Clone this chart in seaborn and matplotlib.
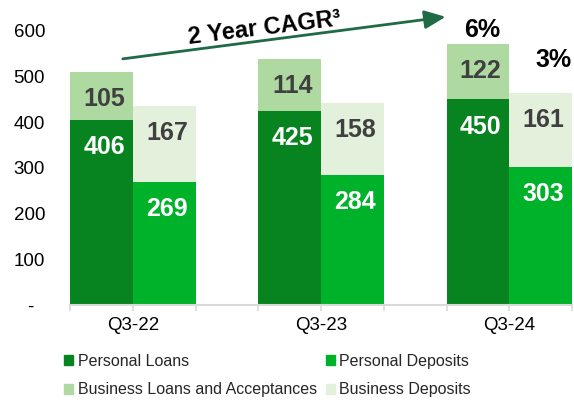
import matplotlib
matplotlib.use("Agg")
import matplotlib.pyplot as plt
from matplotlib.patches import Patch
from matplotlib.ticker import FixedLocator
import seaborn as sns
import pandas as pd

# --- Data ---
quarters = ["Q3-22", "Q3-23", "Q3-24"]
personal_loans = [406, 425, 450]
business_loans = [105, 114, 122]
personal_deposits = [269, 284, 303]
business_deposits = [167, 158, 161]
cagr_labels = ["6%", "3%"]
y_ticks = [0, 100, 200, 300, 400, 500, 600]
y_tick_labels = ["-  ", "100", "200", "300", "400", "500", "600"]

# colours
c_pl = "#07841F"
c_pd = "#00B22A"
c_bl = "#AEDAA2"
c_bd = "#E3F0DC"
text_dark = "#404040"
arrow_c = "#1E6B45"

df = pd.DataFrame({
    "quarter": quarters * 2,
    "kind": ["Loans"] * 3 + ["Deposits"] * 3,
    "personal": personal_loans + personal_deposits,
    "business": business_loans + business_deposits,
})
df["total"] = df["personal"] + df["business"]

sns.set_style("white")
plt.rcParams["font.family"] = ["Liberation Sans", "DejaVu Sans"]

fig = plt.figure(figsize=(5.74, 4.0), dpi=100)
ax = fig.add_axes([0.122, 0.2375, 0.8746, 0.685])

# stacked bars: totals first (business part shows on top), then personal part
common = dict(data=df, x="quarter", hue="kind", order=quarters,
              hue_order=["Loans", "Deposits"], width=2 / 3, dodge=True,
              saturation=1, linewidth=0, errorbar=None, legend=False, ax=ax)
sns.barplot(y="total", palette=[c_bl, c_bd], **common)
sns.barplot(y="personal", palette=[c_pl, c_pd], **common)

# value labels near the top of each segment
seg_vals = [business_loans, business_deposits, personal_loans, personal_deposits]
seg_cols = [text_dark, text_dark, "white", "white"]
for cont, vals, col in zip(ax.containers, seg_vals, seg_cols):
    for bar, v in zip(cont, vals):
        ax.annotate(str(v), (bar.get_x() + bar.get_width() / 2, bar.get_y() + bar.get_height()),
                    xytext=(2, -19.5), textcoords="offset points", ha="center", va="center",
                    fontsize=18, fontweight="bold", color=col)

# CAGR labels above the last group
for cont, lab, off in zip(ax.containers[:2], cagr_labels, [(3, 10), (9, 24)]):
    bar = cont[-1]
    ax.annotate(lab, (bar.get_x() + bar.get_width() / 2, bar.get_height()),
                xytext=off, textcoords="offset points", ha="center", va="center",
                fontsize=18, fontweight="bold", color="black", annotation_clip=False)

# arrow + title text
ax.annotate("", xy=(1.662, 631), xytext=(-0.053, 539),
            arrowprops=dict(arrowstyle="-|>,head_length=0.8,head_width=0.35",
                            color=arrow_c, lw=2, mutation_scale=16, shrinkA=0, shrinkB=0),
            annotation_clip=False)
ax.text(0.70, 607, "2 Year CAGR³", rotation=7, ha="center", va="center",
        fontsize=17, fontweight="bold", color="black", rotation_mode="anchor", clip_on=False)

# axes styling
ax.set_xlim(-1 / 3, 2 + 1 / 3)
ax.set_ylim(0, 600)
ax.set_yticks(y_ticks, y_tick_labels)
ax.xaxis.set_minor_locator(FixedLocator([-1 / 3, 1 / 3, 2 / 3, 4 / 3, 5 / 3, 7 / 3]))
ax.tick_params(axis="x", which="both", bottom=True, length=4.5, width=1.2,
               color="#D9D9D9", pad=4, labelsize=13.5, labelcolor="black")
ax.tick_params(axis="y", left=False, length=0, pad=18, labelsize=13.5, labelcolor="black")
for s in ["top", "right", "left"]:
    ax.spines[s].set_visible(False)
ax.spines["bottom"].set_color("#D9D9D9")
ax.spines["bottom"].set_linewidth(1.5)
ax.set_xlabel("")
ax.set_ylabel("")

# legend
handles = [Patch(color=c_pl, label="Personal Loans"),
           Patch(color=c_bl, label="Business Loans and Acceptances"),
           Patch(color=c_pd, label="Personal Deposits"),
           Patch(color=c_bd, label="Business Deposits")]
fig.legend(handles=handles, ncol=2, loc="upper left", bbox_to_anchor=(0.112, 0.116),
           frameon=False, fontsize=11.5, handlelength=0.55, handleheight=0.55,
           handletextpad=0.3, columnspacing=0.55, labelspacing=0.87,
           borderpad=0, borderaxespad=0)

plt.savefig("out.png", dpi=100)
plt.close()
